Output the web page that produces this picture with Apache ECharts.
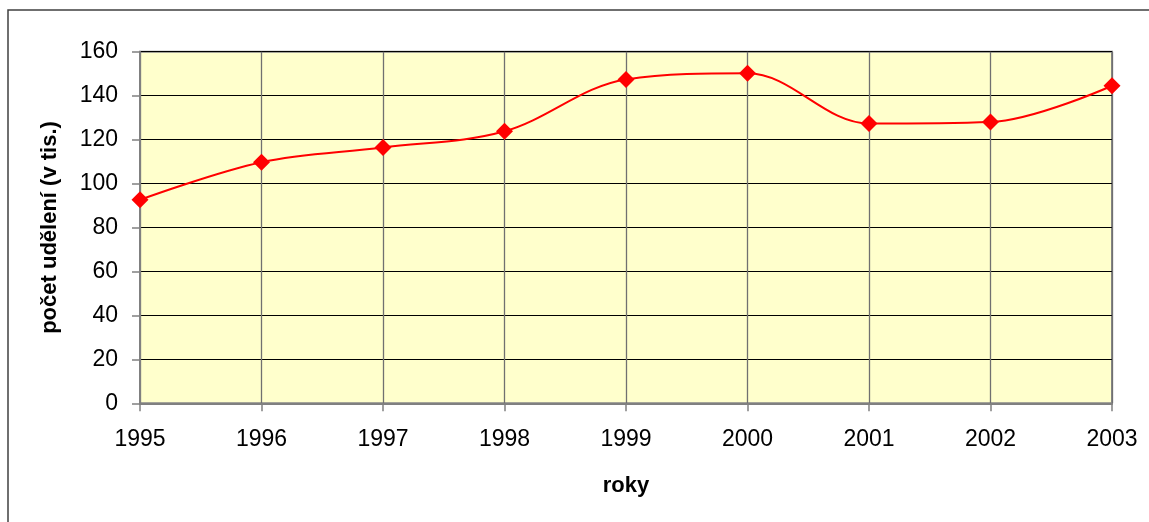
<!DOCTYPE html>
<html>
<head>
<meta charset="utf-8">
<script src="https://cdn.jsdelivr.net/npm/echarts@6/dist/echarts.min.js"></script>
<style>
html,body{margin:0;padding:0;background:#fff;}
#c{width:1149px;height:522px;}
</style>
</head>
<body>
<div id="c"></div>
<script>
const years = ['1995','1996','1997','1998','1999','2000','2001','2002','2003'];
const values = [92.6, 109.7, 116.4, 123.8, 147.4, 150.2, 127.3, 128.0, 144.5];
const yTicks = [0, 20, 40, 60, 80, 100, 120, 140, 160];
const xTitle = 'roky';
const yTitle = 'počet udělení (v tis.)';

const chart = echarts.init(document.getElementById('c'), null, {renderer: 'canvas'});
chart.setOption({
  animation: false,
  backgroundColor: '#ffffff',
  graphic: [{
    type: 'rect',
    shape: {x: 8, y: 10, width: 1200, height: 600},
    style: {fill: 'none', stroke: '#404040', lineWidth: 1.5},
    z: 100
  }],
  grid: {
    left: 140, right: 37, top: 51.7, bottom: 118.7,
    show: true, backgroundColor: '#FFFFCC',
    borderColor: '#888888', borderWidth: 2
  },
  xAxis: {
    type: 'category',
    data: years,
    boundaryGap: false,
    name: xTitle,
    nameLocation: 'middle',
    nameGap: 72,
    nameTextStyle: {fontFamily: 'Liberation Sans', fontSize: 22, fontWeight: 'bold', color: '#000'},
    axisLine: {lineStyle: {color: '#808080', width: 2}},
    axisTick: {show: true, length: 8, lineStyle: {color: '#808080', width: 1.5}},
    axisLabel: {margin: 25, fontFamily: 'Liberation Sans', fontSize: 23, color: '#000'},
    splitLine: {show: true, lineStyle: {color: '#707070', width: 1.3}}
  },
  yAxis: {
    type: 'value',
    min: 0, max: 160, interval: 20,
    name: yTitle,
    nameLocation: 'middle',
    nameGap: 79,
    nameRotate: 90,
    nameTextStyle: {fontFamily: 'Liberation Sans', fontSize: 22, fontWeight: 'bold', color: '#000'},
    axisLine: {show: true, lineStyle: {color: '#808080', width: 2}},
    axisTick: {show: true, length: 8, lineStyle: {color: '#808080', width: 1.5}},
    axisLabel: {margin: 22, fontFamily: 'Liberation Sans', fontSize: 23, color: '#000',
      formatter: v => yTicks.includes(v) ? String(v) : ''},
    splitLine: {show: true, lineStyle: {color: '#000000', width: 1.2}}
  },
  series: [{
    type: 'line',
    data: values,
    smooth: 0.35,
    symbol: 'diamond',
    symbolSize: 17,
    itemStyle: {color: '#FF0000'},
    lineStyle: {color: '#FF0000', width: 2},
    z: 10
  }]
});
</script>
</body>
</html>
